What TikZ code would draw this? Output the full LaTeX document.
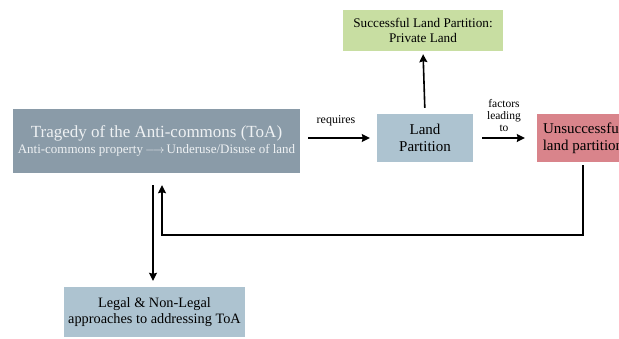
\documentclass[tikz,border=0pt]{standalone}
\usepackage{fontspec}
\setmainfont{Liberation Serif}
\usetikzlibrary{arrows.meta}
\definecolor{mainc}{HTML}{8A9BA8}
\definecolor{landc}{HTML}{ADC3D0}
\definecolor{greenc}{HTML}{C8DEA2}
\definecolor{redc}{HTML}{D9848B}
\definecolor{maintext}{HTML}{EEF1F3}
\tikzset{
  box/.style={draw=none, inner sep=0pt, align=center, text=black},
  arr/.style={line width=1.6pt, -{Stealth[length=8pt,width=8pt,inset=1pt]}},
  lbl/.style={inner sep=0pt, align=center, font=\fontsize{12}{12}\selectfont}
}
\begin{document}
\begin{tikzpicture}[x=1pt,y=-1pt]
\useasboundingbox (0,0) rectangle (619,338);
\clip (0,0) rectangle (619,338);
\fill[white] (0,0) rectangle (619,338);
\node[box, fill=mainc, minimum width=287pt, minimum height=64pt, text=maintext] (main) at (156.5,141)
 {{\fontsize{17}{20}\selectfont Tragedy of the Anti-commons (ToA)}\\[3pt]
  {\fontsize{13}{15}\selectfont Anti-commons property\,$\longrightarrow$\,Underuse/Disuse of land}};
\node[box, fill=landc, minimum width=96pt, minimum height=48pt, font=\fontsize{15}{17}\selectfont] (land) at (425,138) {Land\\Partition};
\node[box, fill=greenc, minimum width=160pt, minimum height=41pt, font=\fontsize{13.2}{15}\selectfont] (succ) at (423,30.5) {Successful Land Partition:\\Private Land};
\node[box, fill=redc, minimum width=92pt, minimum height=48pt, font=\fontsize{15}{17}\selectfont] (uns) at (583,138) {Unsuccessful\\land partition};
\node[box, fill=landc, minimum width=181pt, minimum height=50pt, font=\fontsize{14.3}{16.5}\selectfont] (legal) at (154.5,312) {Legal \& Non-Legal\\approaches to addressing ToA};
\coordinate (loop) at (162,235);
\draw[arr, shorten <=8pt, shorten >=7pt] (main.east |- land.west) -- (land.west);
\draw[arr, shorten <=9pt, shorten >=12pt] (land.east) -- (uns.west);
\draw[arr, shorten <=6pt, shorten >=3pt] (land.north) -- (succ.south);
\draw[arr, line width=1.1pt, shorten <=12pt, shorten >=6pt] ([xshift=-1.5pt]legal.north |- main.south) -- ([xshift=-1.5pt]legal.north);
\draw[arr, shorten <=3pt, shorten >=12pt] (uns.south) |- (loop) -- (loop |- main.south);
\node[lbl] (req) at (336,121) {requires};
\node[lbl, font=\fontsize{11.5}{12}\selectfont] (fac) at (504,116) {factors\\leading\\to};
\end{tikzpicture}
\end{document}
